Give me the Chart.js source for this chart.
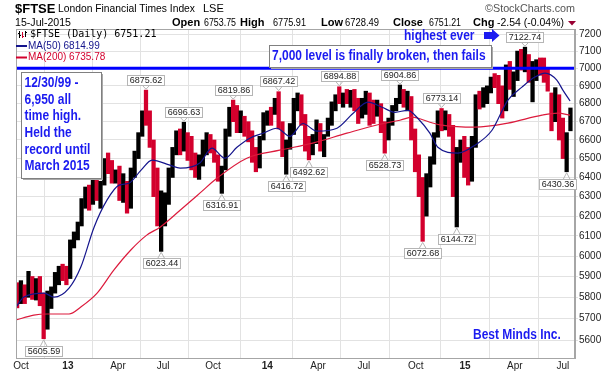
<!DOCTYPE html>
<html>
<head>
<meta charset="utf-8">
<script src="https://cdn.jsdelivr.net/npm/chart.js@4.4.1/dist/chart.umd.min.js"></script>
<style>
  html, body { margin: 0; padding: 0; background: #fff; }
  canvas { display: block; }
</style>
</head>
<body>
<canvas id="c" width="616" height="373"></canvas>
<script>
// weekly bars, week 0 = first week of Oct 2012
const firstWeek = -1;
const weekHigh = [
  5870,5880,5860,5925,5900,5890,5900,5820,5830,5850,
  5920,5950,5960,5950,6080,6120,6170,6290,6350,6360,
  6400,6420,6380,6500,6530,6490,6440,6460,6420,6380,
  6450,6540,6640,6760,6876,6760,6600,6450,6330,6320,
  6450,6560,6650,6660,6697,6640,6620,6530,6520,6600,
  6640,6630,6600,6520,6460,6660,6780,6820,6790,6760,
  6730,6700,6650,6560,6620,6750,6760,6780,6830,6867,
  6700,6600,6690,6830,6860,6850,6740,6620,6630,6710,
  6690,6630,6720,6810,6850,6895,6860,6880,6875,6880,
  6830,6830,6870,6860,6820,6820,6800,6700,6720,6790,
  6830,6905,6880,6870,6840,6660,6520,6400,6420,6510,
  6640,6760,6773,6760,6740,6680,6560,6600,6620,6560,
  6620,6850,6870,6890,6900,6950,6970,6960,6900,7020,
  7040,6980,7100,7110,7123,7080,7040,7050,7060,7060,
  7000,6860,6890,6850,6720,6640,6776
];
const weekLow = [
  5750,5770,5770,5800,5790,5787,5760,5606,5650,5747,
  5820,5860,5880,5860,5890,6040,6080,6150,6240,6230,
  6260,6280,6240,6360,6420,6370,6370,6280,6270,6215,
  6240,6400,6500,6620,6680,6560,6300,6150,6023,6150,
  6260,6400,6520,6520,6540,6490,6440,6400,6390,6460,
  6520,6530,6480,6380,6317,6440,6620,6700,6640,6640,
  6620,6590,6480,6430,6450,6600,6680,6680,6740,6660,
  6510,6417,6550,6630,6760,6680,6540,6493,6520,6580,
  6540,6510,6620,6680,6760,6800,6780,6800,6780,6760,
  6690,6720,6740,6680,6690,6730,6640,6529,6600,6680,
  6760,6800,6780,6760,6600,6430,6300,6073,6200,6350,
  6470,6615,6650,6655,6620,6300,6145,6480,6400,6360,
  6380,6560,6770,6780,6800,6860,6890,6800,6720,6760,
  6880,6840,6930,6990,6980,6920,6810,6930,6960,6920,
  6870,6650,6700,6600,6500,6430,6650
];
// 1 = up week (black), 0 = down week (red)
const weekUp = [
  0,1,0,1,0,1,0,0,1,1,
  1,1,0,0,1,1,1,1,1,0,
  1,0,1,1,0,0,1,0,1,0,
  1,1,1,1,0,0,0,0,1,1,
  1,1,1,0,1,0,0,0,1,1,
  1,0,0,0,1,1,1,0,0,1,
  0,0,0,0,1,1,1,0,1,0,
  0,1,1,1,1,0,0,0,1,1,
  0,1,1,1,1,0,1,0,1,0,
  0,1,1,0,0,1,0,0,1,1,
  1,1,0,1,0,0,0,0,1,1,
  1,1,0,1,0,0,1,1,0,0,
  1,1,0,1,1,1,0,0,0,1,
  0,1,1,0,1,0,1,1,0,0,
  0,0,1,0,0,1,1
];

const ma50Week  = [-1.3,0.8,6.1,8.7,12.7,15.8,19.3,22.7,25.9,28.5,31.7,34.6,39.3,42,47.2,50.4,53.8,57,60.4,63.9,67.5,71,74.4,78.1,83.4,87.6,91.6,95.3,98.7,102.1,104.7,107.9,110,115.3,119.8,124.3,128.5,132.2,135.6,138.3,141.4,143,144.9];
const ma50Value = [5754,5801,5820,5801,5844,5946,6144,6282,6360,6370,6439,6492,6465,6449,6476,6556,6502,6561,6610,6637,6664,6620,6690,6648,6664,6745,6808,6780,6752,6763,6719,6637,6561,6529,6572,6653,6820,6893,6950,6973,6933,6876,6815];
const ma200Week  = [-1.3,3.4,6.9,12.7,15.8,20.1,24.5,29,33.2,36.7,42,47.2,51.7,59.6,68.3,77,86,94.7,100,103.2,107.9,111.1,119.8,128.5,137.5,141.7,144.9];
const ma200Value = [5693,5716,5721,5721,5754,5820,5931,6030,6104,6144,6230,6318,6396,6502,6545,6583,6637,6686,6708,6725,6697,6681,6670,6692,6736,6747,6736];

const levelLine = 7000;
const xAxisMin = -1.3, xAxisMax = 146.2;
const yAxisMin = 5518, yAxisMax = 7230;
const yTicks = [5600,5700,5800,5900,6000,6100,6200,6300,6400,6500,6600,6700,6800,6900,7000,7100,7200];
const xTickWeeks  = [0, 12.4, 25.6, 37.5, 50.7, 65, 78.4, 90.5, 104.2, 117.2, 130.3, 143];
const xTickLabels = ['Oct','13','Apr','Jul','Oct','14','Apr','Jul','Oct','15','Apr','Jul'];

const calloutWeek  = [6, 33, 37, 43, 53, 56, 68, 70, 76, 84, 96, 100, 106, 111, 115, 133, 144];
const calloutPrice = [5605.59, 6875.62, 6023.44, 6696.63, 6316.91, 6819.86, 6867.42, 6416.72, 6492.62, 6894.88, 6528.73, 6904.86, 6072.68, 6773.14, 6144.72, 7122.74, 6430.36];
const calloutSide  = ['low','high','low','high','low','high','high','low','low','high','low','high','low','high','low','high','low'];

const noteLines = ['12/30/99 -', '6,950 all', 'time high.', 'Held the', 'record until', 'March 2015'];
const BLUE = '#1b1bf0';
const RED = '#d3002d';

function putText(ctx, s, x, y, font, color, align, maxW) {
    ctx.font = font;
    ctx.fillStyle = color;
    ctx.textAlign = align || 'left';
    ctx.textBaseline = 'middle';
    if (maxW) ctx.fillText(s, x, y, maxW); else ctx.fillText(s, x, y);
}

function narrowText(ctx, s, x, y) {
    ctx.save();
    ctx.translate(x, y);
    ctx.scale(0.855, 1);
    putText(ctx, s, 0, 0, 'bold 14px "Liberation Sans", Arial', BLUE);
    ctx.restore();
}

function shadowBox(ctx, x, y, w, h) {
    ctx.fillStyle = '#a9a9a9';
    ctx.fillRect(x + 2, y + 2, w, h);
    ctx.fillStyle = '#fff';
    ctx.fillRect(x, y, w, h);
    ctx.strokeStyle = '#808080';
    ctx.lineWidth = 1;
    ctx.strokeRect(x + 0.5, y + 0.5, w, h);
}

const decor = {
    id: 'decor',
    afterDraw(chart) {
        const ctx = chart.ctx, a = chart.chartArea;
        const xs = chart.scales.x, ys = chart.scales.y;
        ctx.save();

        // plot frame
        ctx.strokeStyle = '#a6a6a6';
        ctx.lineWidth = 1;
        ctx.strokeRect(a.left + 0.5, a.top + 0.5, a.right - a.left - 1, a.bottom - a.top);

        // header
        putText(ctx, '$FTSE', 15, 9, 'bold 13px "Liberation Sans", Arial', '#000');
        putText(ctx, 'London Financial Times Index', 58, 9, '11px "Liberation Sans", Arial', '#000', 'left', 137);
        putText(ctx, 'LSE', 203, 9, '11px "Liberation Sans", Arial', '#000');
        putText(ctx, '\u00a9StockCharts.com', 575, 9, '11px "Liberation Sans", Arial', '#555', 'right', 90);
        putText(ctx, '15-Jul-2015', 15, 23, '11px "Liberation Sans", Arial', '#000', 'left', 56);
        const B = 'bold 11px "Liberation Sans", Arial', N = '10.5px "Liberation Sans", Arial';
        putText(ctx, 'Open', 172, 23, B, '#000');
        putText(ctx, '6753.75', 204, 23, N, '#000', 'left', 32);
        putText(ctx, 'High', 240, 23, B, '#000');
        putText(ctx, '6775.91', 273, 23, N, '#000', 'left', 33);
        putText(ctx, 'Low', 321, 23, B, '#000');
        putText(ctx, '6728.49', 345, 23, N, '#000', 'left', 34);
        putText(ctx, 'Close', 393, 23, B, '#000');
        putText(ctx, '6751.21', 429, 23, N, '#000', 'left', 32);
        putText(ctx, 'Chg', 473, 23, B, '#000');
        putText(ctx, '-2.54 (-0.04%)', 497, 23, N, '#000', 'left', 67);
        ctx.fillStyle = '#990033';
        ctx.beginPath(); ctx.moveTo(568, 21); ctx.lineTo(576, 21); ctx.lineTo(572, 25.5); ctx.closePath(); ctx.fill();

        // legend inside plot
        ctx.fillStyle = '#000'; ctx.fillRect(19, 31, 1, 7); ctx.fillRect(18, 33, 1, 1); ctx.fillRect(20, 35, 1, 1);
        ctx.fillStyle = RED;  ctx.fillRect(22, 32, 1, 6); ctx.fillRect(23, 36, 1, 1);
        ctx.fillStyle = '#000'; ctx.fillRect(25, 31, 1, 6); ctx.fillRect(26, 32, 1, 1);
        putText(ctx, '$FTSE (Daily) 6751.21', 30, 34.5, '10px "DejaVu Sans Mono", monospace', '#000');
        ctx.fillStyle = '#14148c'; ctx.fillRect(16, 45, 11, 2);
        putText(ctx, 'MA(50) 6814.99', 28, 46, '10px "Liberation Sans", Arial', '#14148c');
        ctx.fillStyle = RED; ctx.fillRect(16, 56.5, 11, 2);
        putText(ctx, 'MA(200) 6735.78', 28, 57.5, '10px "Liberation Sans", Arial', RED);

        // price callouts
        ctx.font = '9px "Liberation Sans", Arial';
        calloutWeek.forEach((wk, i) => {
            const label = calloutPrice[i].toFixed(2);
            const bx = xs.getPixelForValue(wk), by = ys.getPixelForValue(calloutPrice[i]);
            const w = Math.round(ctx.measureText(label).width + 4), h = 10;
            let left = Math.round(bx - w / 2);
            left = Math.min(left, a.right + 1 - w);
            const top = calloutSide[i] === 'high' ? Math.round(by - 5.5 - h) : Math.round(by + 7);
            const edge = calloutSide[i] === 'high' ? top + h : top;
            const tip = calloutSide[i] === 'high' ? by - 1 : by + 1;
            ctx.strokeStyle = '#b5b5b5';
            ctx.beginPath();
            ctx.moveTo(bx - 3.5, edge + 0.5); ctx.lineTo(bx, tip); ctx.lineTo(bx + 3.5, edge + 0.5);
            ctx.stroke();
            ctx.fillStyle = '#fff';
            ctx.fillRect(left, top, w, h);
            ctx.strokeRect(left + 0.5, top + 0.5, w, h);
            putText(ctx, label, left + w / 2 + 0.5, top + h / 2 + 1, '9px "Liberation Sans", Arial', '#222', 'center');
            ctx.font = '9px "Liberation Sans", Arial';
        });

        // annotations
        shadowBox(ctx, 21, 72, 80, 106);
        noteLines.forEach((s, i) => narrowText(ctx, s, 24.5, 83 + i * 16.7));
        shadowBox(ctx, 269, 45, 222, 22);
        narrowText(ctx, '7,000 level is finally broken, then fails', 272, 56.5);
        narrowText(ctx, 'highest ever', 404, 36);
        ctx.fillStyle = BLUE;
        ctx.beginPath();
        ctx.moveTo(484, 32); ctx.lineTo(492, 32); ctx.lineTo(492, 29); ctx.lineTo(499.5, 35.5);
        ctx.lineTo(492, 42); ctx.lineTo(492, 39); ctx.lineTo(484, 39); ctx.closePath(); ctx.fill();
        narrowText(ctx, 'Best Minds Inc.', 473, 335);

        ctx.restore();
    }
};

const bars = weekHigh.map((h, i) => ({ x: firstWeek + i, y: [weekLow[i], h] }));
const barColors = weekUp.map(u => u ? '#000000' : RED);
const ma50 = ma50Week.map((w, i) => ({ x: w, y: ma50Value[i] }));
const ma200 = ma200Week.map((w, i) => ({ x: w, y: ma200Value[i] }));
const level = [{ x: xAxisMin, y: levelLine }, { x: xAxisMax, y: levelLine }];

new Chart(document.getElementById('c'), {
    type: 'bar',
    data: {
        datasets: [
            { type: 'line', data: level, borderColor: '#0000ff', borderWidth: 3, pointRadius: 0, order: 0 },
            { type: 'line', data: ma50, borderColor: '#14148c', borderWidth: 1.2, pointRadius: 0, cubicInterpolationMode: 'monotone', order: 1 },
            { type: 'line', data: ma200, borderColor: '#dc1a3c', borderWidth: 1.2, pointRadius: 0, cubicInterpolationMode: 'monotone', order: 2 },
            { type: 'bar', data: bars, backgroundColor: barColors, barThickness: 3.6, order: 3 }
        ]
    },
    options: {
        responsive: false,
        animation: false,
        events: [],
        layout: { padding: { left: 16, top: 29, right: 0, bottom: 0 } },
        plugins: { legend: { display: false }, tooltip: { enabled: false } },
        scales: {
            x: {
                type: 'linear', min: xAxisMin, max: xAxisMax, offset: false,
                grid: { color: '#e2e2e2', drawTicks: false },
                border: { color: '#a6a6a6' },
                afterBuildTicks: s => { s.ticks = xTickWeeks.map(v => ({ value: v })); },
                afterFit: s => { s.height = 15; },
                ticks: {
                    autoSkip: false, maxRotation: 0, padding: 2, color: '#222',
                    callback: (v, i) => xTickLabels[i],
                    font: c => ({ family: '"Liberation Sans", Arial', size: 10, weight: /^\d+$/.test(xTickLabels[c.index]) ? 'bold' : 'normal' })
                }
            },
            y: {
                type: 'logarithmic', position: 'right', min: yAxisMin, max: yAxisMax,
                grid: { color: '#e2e2e2', tickLength: 3 },
                border: { color: '#a6a6a6' },
                afterBuildTicks: s => { s.ticks = yTicks.map(v => ({ value: v })); },
                afterFit: s => { s.width = 41; },
                ticks: {
                    autoSkip: false, padding: 1, color: '#222',
                    font: { family: '"Liberation Sans", Arial', size: 10 },
                    callback: v => String(v)
                }
            }
        }
    },
    plugins: [decor]
});
</script>
</body>
</html>
